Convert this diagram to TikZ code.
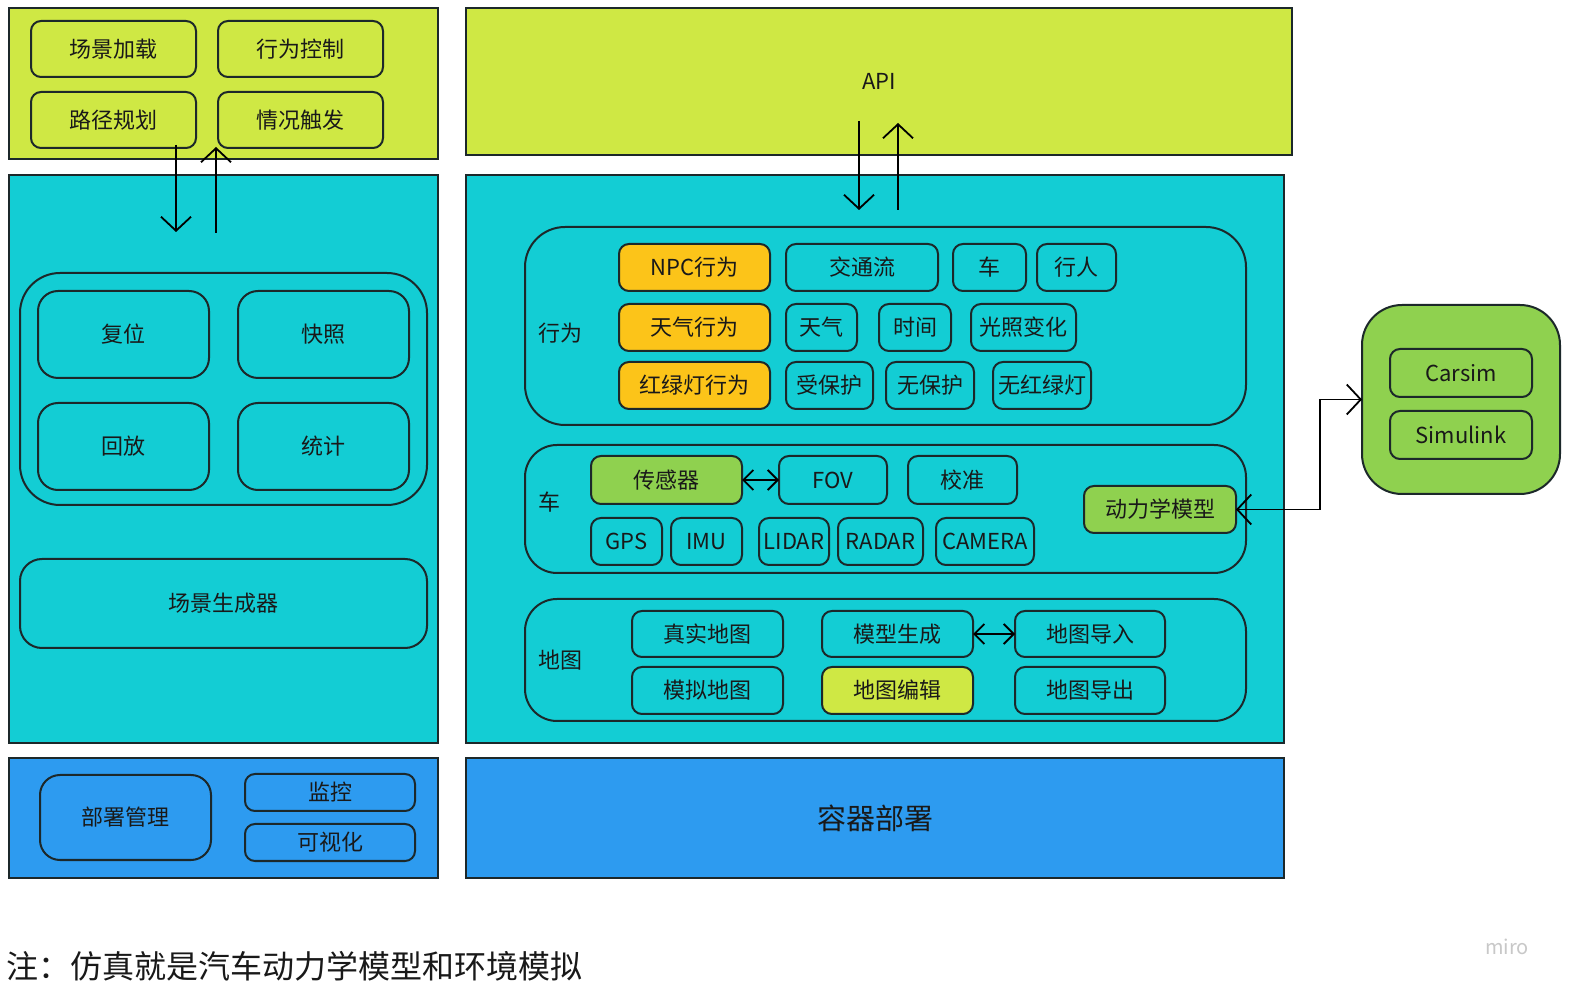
\documentclass[tikz,border=0pt]{standalone}
\usepackage{fontspec}
\setmainfont{Noto Sans CJK SC}
\usetikzlibrary{arrows.meta}
\definecolor{limeG}{RGB}{207,232,68}
\definecolor{cyanB}{RGB}{19,205,212}
\definecolor{blueB}{RGB}{45,155,240}
\definecolor{yellowO}{RGB}{252,196,25}
\definecolor{greenL}{RGB}{143,209,79}
\definecolor{borderC}{RGB}{28,40,42}
\definecolor{txtC}{RGB}{25,25,25}
\newcommand\bx[7]{\node[#6, minimum width={(#4-#2)*0.5pt}, minimum height={(#5-#3)*0.5pt}] (#1) at ({(#2+#4)/2},{(#3+#5)/2}) {#7};}
\tikzset{
  base/.style={draw=borderC, inner sep=0pt, outer sep=0pt, text=txtC, font=\fontsize{11}{13}\selectfont},
  outerbox/.style={base, line width=0.8pt},
  sbox/.style={base, line width=1pt, rounded corners=5pt},
  grp/.style={base, line width=1pt, rounded corners=20pt},
  arr/.style={draw=black, line width=0.9pt, -{Straight Barb[length=7pt,width=15pt]}},
  darr/.style={draw=black, line width=0.9pt, {Straight Barb[length=5pt,width=10pt]}-{Straight Barb[length=5pt,width=10pt]}},
  bigdarr/.style={draw=black, line width=0.9pt, {Straight Barb[length=7pt,width=15pt]}-{Straight Barb[length=7pt,width=15pt]}},
  lbl/.style={text=txtC, inner sep=0pt, font=\fontsize{11}{13}\selectfont}
}
\begin{document}
\begin{tikzpicture}[x=0.5pt,y=-0.5pt]
\useasboundingbox (0,0) rectangle (1571,994);
\fill[white] (0,0) rectangle (1571,994);
% ---------- left column ----------
\bx{tl}{9}{8}{438}{159}{outerbox, fill=limeG}{}
\bx{cjjz}{31}{21}{196}{77}{sbox}{场景加载}
\bx{xwkz}{218}{21}{383}{77}{sbox}{行为控制}
\bx{ljgh}{31}{92}{196}{148}{sbox}{路径规划}
\bx{qkcf}{218}{92}{383}{148}{sbox}{情况触发}
\bx{ml}{9}{175}{438}{743}{outerbox, fill=cyanB}{}
\bx{grpL}{20}{273}{427}{505}{grp}{}
\bx{fw}{38}{291}{209}{378}{sbox, rounded corners=10pt}{复位}
\bx{kz}{238}{291}{409}{378}{sbox, rounded corners=10pt}{快照}
\bx{hf}{38}{403}{209}{490}{sbox, rounded corners=10pt}{回放}
\bx{tj}{238}{403}{409}{490}{sbox, rounded corners=10pt}{统计}
\bx{cjsc}{20}{559}{427}{648}{sbox, rounded corners=11pt}{场景生成器}
\bx{bl}{9}{758}{438}{878}{outerbox, fill=blueB}{}
\bx{bsgl}{40}{775}{211}{860}{sbox, rounded corners=10pt}{部署管理}
\bx{jk}{245}{774}{415}{811}{sbox}{监控}
\bx{ksh}{245}{824}{415}{861}{sbox}{可视化}
\coordinate (a1s) at (176,145);
\coordinate (a1e) at (176,232);
\coordinate (a2s) at (216,233);
\coordinate (a2e) at (216,147);
\draw[arr] (a1s) -- (a1e);
\draw[arr] (a2s) -- (a2e);
% ---------- right column ----------
\bx{api}{466}{8}{1292}{155}{outerbox, fill=limeG}{API}
\bx{mr}{466}{175}{1284}{743}{outerbox, fill=cyanB}{}
\coordinate (b1s) at (859,121);
\coordinate (b1e) at (859,210);
\coordinate (b2s) at (898,210);
\coordinate (b2e) at (898,123);
\draw[arr] (b1s) -- (b1e);
\draw[arr] (b2s) -- (b2e);
% behaviour group
\bx{gXW}{525}{227}{1246}{425}{grp}{}
\node[lbl] (lXW) at (560,333) {行为};
\bx{npc}{619}{244}{770}{291}{sbox, fill=yellowO}{NPC行为}
\bx{jtl}{786}{244}{938}{291}{sbox}{交通流}
\bx{che}{953}{244}{1026}{291}{sbox}{车}
\bx{xr}{1037}{244}{1116}{291}{sbox}{行人}
\bx{tqxw}{619}{304}{770}{351}{sbox, fill=yellowO}{天气行为}
\bx{tq}{786}{304}{857}{351}{sbox}{天气}
\bx{sj}{879}{304}{951}{351}{sbox}{时间}
\bx{gzbh}{971}{304}{1076}{351}{sbox}{光照变化}
\bx{hldxw}{619}{362}{770}{409}{sbox, fill=yellowO}{红绿灯行为}
\bx{bhh}{786}{362}{873}{409}{sbox}{受保护}
\bx{wbh}{886}{362}{974}{409}{sbox}{无保护}
\bx{whld}{993}{362}{1091}{409}{sbox}{无红绿灯}
% car group
\bx{gCar}{525}{445}{1246}{573}{grp, rounded corners=16pt}{}
\node[lbl] (lCar) at (549,502) {车};
\bx{cgq}{591}{456}{742}{504}{sbox, fill=greenL}{传感器}
\bx{fov}{779}{456}{887}{504}{sbox}{FOV}
\bx{jz}{908}{456}{1017}{504}{sbox}{校准}
\bx{gps}{591}{518}{662}{565}{sbox}{GPS}
\bx{imu}{671}{518}{742}{565}{sbox}{IMU}
\bx{lidar}{759}{518}{829}{565}{sbox}{LIDAR}
\bx{radar}{838}{518}{923}{565}{sbox}{RADAR}
\bx{camera}{936}{518}{1034}{565}{sbox}{CAMERA}
\bx{dyn}{1084}{486}{1236}{533}{sbox, fill=greenL}{动力学模型}
\draw[darr] (cgq.east) -- (fov.west);
% map group
\bx{gMap}{525}{599}{1246}{721}{grp, rounded corners=16pt}{}
\node[lbl] (lMap) at (560,660) {地图};
\bx{zsdt}{632}{611}{783}{657}{sbox}{真实地图}
\bx{mxsc}{822}{611}{973}{657}{sbox}{模型生成}
\bx{dtdr}{1015}{611}{1165}{657}{sbox}{地图导入}
\bx{mndt}{632}{667}{783}{714}{sbox}{模拟地图}
\bx{dtbj}{822}{667}{973}{714}{sbox, fill=limeG}{地图编辑}
\bx{dtdc}{1015}{667}{1165}{714}{sbox}{地图导出}
\draw[darr] (mxsc.east) -- (dtdr.west);
% bottom right
\bx{br}{466}{758}{1284}{878}{outerbox, fill=blueB, font=\fontsize{14.5}{17}\selectfont}{容器部署}
% simulation box
\bx{simbox}{1362}{305}{1560}{494}{grp, fill=greenL}{}
\bx{carsim}{1390}{349}{1532}{397}{sbox}{Carsim}
\bx{simulink}{1390}{411}{1532}{459}{sbox}{Simulink}
\coordinate (turn) at (1320,509.5);
\draw[bigdarr] (dyn.east) -- (turn) |- (simbox.west);
% note
\node[anchor=west, inner sep=0pt, text=txtC, font=\fontsize{16}{19}\selectfont] (note) at (6,966) {注：仿真就是汽车动力学模型和环境模拟};
\node[inner sep=0pt, text={rgb,255:red,200;green,200;blue,200}, font=\fontsize{10}{12}\selectfont] (miro) at (1507,947) {miro};
\end{tikzpicture}
\end{document}
